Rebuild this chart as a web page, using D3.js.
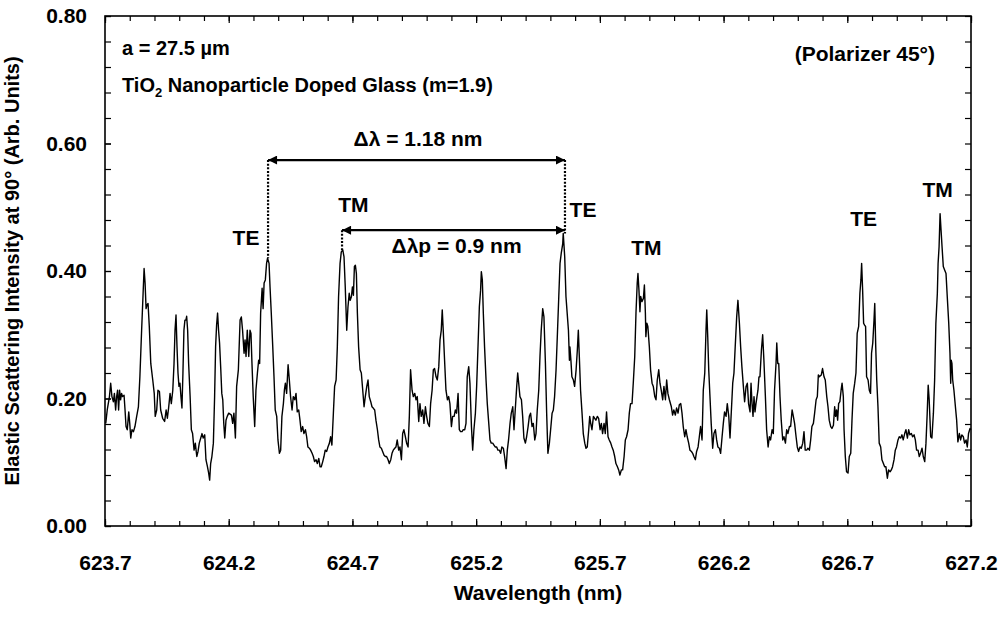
<!DOCTYPE html>
<html>
<head>
<meta charset="utf-8">
<script src="https://cdn.jsdelivr.net/npm/d3@7"></script>
<style>
  body { margin: 0; background: #fff; }
  svg text { font-family: "Liberation Sans", Arial, sans-serif; font-weight: bold; fill: #000; }
</style>
</head>
<body>
<svg width="1005" height="617"></svg>
<script>
// spectrum: [wavelength (nm), intensity (arb. units)]
const spectrum = [
  [623.703,0.161],[623.709,0.182],[623.718,0.203],[623.723,0.224],[623.728,0.203],[623.734,0.195],[623.738,0.208],[623.743,0.182],[623.747,0.203],[623.751,0.213],
  [623.755,0.182],[623.759,0.213],[623.763,0.198],[623.767,0.208],[623.771,0.203],[623.777,0.205],[623.781,0.182],[623.785,0.156],[623.790,0.151],[623.796,0.179],
  [623.800,0.161],[623.804,0.138],[623.809,0.151],[623.815,0.148],[623.821,0.156],[623.828,0.172],[623.835,0.187],[623.841,0.234],[623.848,0.307],[623.854,0.365],
  [623.858,0.404],[623.862,0.381],[623.866,0.341],[623.870,0.347],[623.874,0.349],[623.879,0.313],[623.885,0.255],[623.893,0.229],[623.899,0.208],[623.903,0.172],
  [623.909,0.182],[623.914,0.213],[623.920,0.211],[623.925,0.182],[623.933,0.169],[623.941,0.164],[623.947,0.182],[623.952,0.169],[623.957,0.185],[623.963,0.208],
  [623.968,0.192],[623.974,0.213],[623.979,0.255],[623.983,0.307],[623.987,0.331],[623.991,0.281],[623.995,0.240],[623.999,0.219],[624.003,0.224],[624.007,0.203],
  [624.011,0.185],[624.015,0.240],[624.019,0.307],[624.023,0.323],[624.027,0.323],[624.030,0.329],[624.034,0.307],[624.038,0.255],[624.044,0.203],[624.049,0.151],
  [624.054,0.145],[624.060,0.119],[624.065,0.130],[624.071,0.109],[624.076,0.117],[624.081,0.130],[624.087,0.138],[624.092,0.145],[624.097,0.138],[624.103,0.143],
  [624.108,0.104],[624.114,0.093],[624.119,0.083],[624.123,0.072],[624.127,0.098],[624.132,0.109],[624.138,0.130],[624.143,0.203],[624.147,0.281],[624.151,0.315],
  [624.155,0.334],[624.159,0.307],[624.163,0.287],[624.168,0.245],[624.172,0.208],[624.176,0.198],[624.180,0.161],[624.184,0.138],[624.189,0.166],[624.194,0.172],
  [624.200,0.177],
  [624.211,0.174],[624.216,0.161],[624.221,0.177],[624.227,0.138],[624.232,0.219],[624.239,0.245],[624.246,0.323],[624.251,0.328],[624.256,0.307],[624.262,0.271],
  [624.266,0.292],[624.270,0.266],[624.275,0.307],[624.281,0.266],[624.286,0.307],[624.290,0.302],[624.294,0.255],[624.299,0.203],[624.305,0.156],[624.310,0.213],
  [624.316,0.240],[624.321,0.260],[624.325,0.255],[624.329,0.334],[624.335,0.373],[624.339,0.341],[624.343,0.381],[624.348,0.386],[624.353,0.412],[624.357,0.420],
  [624.363,0.412],[624.367,0.375],[624.372,0.334],[624.378,0.281],[624.383,0.234],[624.388,0.182],[624.394,0.172],[624.399,0.135],[624.405,0.114],[624.410,0.119],
  [624.415,0.172],[624.421,0.192],[624.425,0.213],[624.429,0.224],[624.434,0.208],[624.440,0.253],[624.445,0.229],[624.450,0.203],[624.456,0.182],[624.461,0.203],
  [624.467,0.198],[624.472,0.208],[624.477,0.179],[624.483,0.182],[624.488,0.166],[624.493,0.148],[624.499,0.156],[624.504,0.145],[624.510,0.151],[624.515,0.140],
  [624.520,0.124],[624.526,0.122],[624.531,0.119],[624.537,0.114],[624.542,0.109],[624.547,0.101],[624.553,0.104],[624.558,0.098],[624.564,0.106],[624.569,0.093],
  [624.574,0.093],[624.580,0.101],[624.585,0.109],[624.590,0.119],[624.596,0.117],[624.601,0.124],[624.607,0.130],[624.612,0.140],[624.617,0.127],[624.623,0.177],
  [624.628,0.219],[624.634,0.229],[624.639,0.281],[624.644,0.360],[624.650,0.412],[624.655,0.430],[624.661,0.433],[624.666,0.422],[624.671,0.375],[624.677,0.307],
  [624.682,0.344],[624.687,0.365],[624.691,0.354],[624.696,0.360],[624.700,0.375],[624.704,0.362],[624.708,0.407],[624.712,0.409],[624.716,0.396],[624.720,0.334],
  [624.725,0.281],[624.731,0.245],[624.736,0.240],[624.741,0.216],[624.747,0.187],[624.752,0.203],[624.758,0.219],[624.763,0.229],[624.768,0.203],[624.774,0.195],
  [624.779,0.187],[624.784,0.185],[624.790,0.182],[624.795,0.166],[624.801,0.151],[624.806,0.135],[624.811,0.124],
  [624.817,0.122],[624.822,0.117],[624.828,0.111],[624.833,0.109],[624.838,0.109],[624.844,0.104],[624.849,0.098],[624.855,0.104],[624.860,0.114],[624.865,0.119],
  [624.871,0.122],[624.876,0.124],[624.881,0.135],[624.887,0.119],[624.892,0.124],[624.898,0.104],[624.903,0.145],[624.908,0.151],[624.914,0.140],[624.919,0.130],
  [624.925,0.124],[624.930,0.172],[624.935,0.245],[624.941,0.213],[624.946,0.203],[624.952,0.208],[624.957,0.198],[624.962,0.203],[624.968,0.164],[624.973,0.192],
  [624.978,0.172],[624.984,0.182],[624.989,0.161],[624.995,0.187],[625.000,0.172],[625.005,0.161],[625.011,0.156],[625.016,0.192],[625.022,0.213],[625.027,0.245],
  [625.032,0.247],[625.038,0.234],[625.043,0.229],[625.049,0.250],[625.054,0.292],[625.059,0.307],[625.063,0.339],[625.067,0.307],[625.073,0.255],[625.078,0.213],
  [625.084,0.198],[625.089,0.203],[625.094,0.192],[625.100,0.156],[625.105,0.172],[625.111,0.172],[625.116,0.182],[625.121,0.177],[625.127,0.208],[625.132,0.151],
  [625.137,0.148],[625.143,0.148],[625.148,0.151],[625.154,0.151],[625.159,0.161],[625.164,0.234],[625.170,0.250],[625.175,0.224],[625.181,0.156],[625.186,0.119],
  [625.191,0.151],[625.197,0.177],[625.202,0.219],[625.208,0.287],[625.213,0.344],[625.218,0.370],[625.221,0.399],[625.225,0.386],[625.229,0.334],[625.234,0.281],
  [625.240,0.229],[625.245,0.192],[625.251,0.161],[625.256,0.135],[625.261,0.130],[625.267,0.130],[625.272,0.127],[625.277,0.124],[625.283,0.124],[625.288,0.119],
  [625.294,0.119],[625.299,0.114],[625.304,0.124],[625.310,0.122],[625.315,0.109],[625.321,0.090],[625.326,0.119],[625.331,0.135],[625.337,0.161],[625.342,0.177],
  [625.348,0.187],[625.353,0.151],[625.358,0.182],[625.364,0.219],[625.368,0.240],[625.372,0.224],[625.377,0.203],[625.383,0.198],[625.388,0.172],[625.393,0.138],
  [625.399,0.130],[625.404,0.140],[625.410,0.156],[625.415,0.172],
  [625.420,0.177],[625.426,0.156],[625.431,0.161],[625.437,0.135],[625.442,0.145],[625.447,0.182],[625.453,0.213],[625.458,0.266],[625.463,0.307],[625.469,0.341],
  [625.474,0.328],[625.480,0.255],[625.485,0.177],[625.490,0.114],[625.496,0.130],[625.501,0.151],[625.507,0.177],[625.512,0.182],[625.517,0.203],[625.523,0.245],
  [625.528,0.297],[625.534,0.360],[625.539,0.412],[625.544,0.428],[625.550,0.443],[625.552,0.459],[625.558,0.422],[625.563,0.360],[625.569,0.328],[625.573,0.307],
  [625.577,0.260],[625.579,0.281],[625.583,0.260],[625.587,0.234],[625.593,0.229],[625.598,0.219],[625.604,0.245],[625.609,0.276],[625.613,0.307],[625.617,0.266],
  [625.622,0.213],[625.628,0.177],[625.633,0.145],[625.639,0.130],[625.644,0.122],[625.649,0.124],[625.655,0.151],[625.659,0.172],[625.663,0.161],[625.668,0.151],
  [625.674,0.172],[625.679,0.169],[625.684,0.166],[625.690,0.172],[625.695,0.169],[625.701,0.151],[625.706,0.161],[625.711,0.145],[625.717,0.161],[625.722,0.145],
  [625.727,0.179],[625.733,0.140],[625.738,0.135],[625.744,0.130],[625.749,0.124],[625.754,0.119],[625.760,0.109],[625.765,0.098],[625.771,0.093],[625.776,0.088],
  [625.781,0.080],[625.787,0.088],[625.792,0.088],[625.798,0.109],[625.803,0.135],[625.808,0.140],[625.814,0.151],[625.819,0.177],[625.824,0.192],[625.830,0.192],
  [625.835,0.224],[625.841,0.266],[625.846,0.334],[625.851,0.381],[625.854,0.396],[625.858,0.370],[625.862,0.336],[625.865,0.360],[625.870,0.352],[625.876,0.357],
  [625.880,0.378],[625.884,0.334],[625.886,0.297],[625.890,0.318],[625.894,0.313],[625.900,0.281],[625.905,0.245],[625.911,0.224],[625.916,0.219],[625.922,0.203],
  [625.927,0.198],[625.932,0.229],[625.938,0.245],[625.943,0.224],[625.948,0.213],[625.954,0.198],[625.959,0.219],[625.965,0.198],[625.970,0.229],[625.975,0.208],
  [625.981,0.198],
  [625.989,0.187],[625.994,0.174],[625.999,0.182],[626.005,0.174],[626.010,0.185],[626.016,0.177],[626.021,0.190],[626.027,0.192],[626.032,0.177],[626.037,0.156],
  [626.043,0.140],[626.048,0.151],[626.053,0.140],[626.059,0.130],[626.064,0.119],[626.070,0.117],[626.075,0.114],[626.080,0.109],[626.086,0.104],[626.091,0.117],
  [626.097,0.124],[626.102,0.140],[626.107,0.156],[626.113,0.135],[626.118,0.213],[626.124,0.240],[626.129,0.307],[626.132,0.339],[626.136,0.297],[626.140,0.245],
  [626.145,0.203],[626.150,0.161],[626.156,0.122],[626.161,0.145],[626.167,0.151],[626.172,0.135],[626.177,0.124],[626.183,0.122],[626.188,0.114],[626.194,0.140],
  [626.199,0.161],[626.204,0.179],[626.210,0.172],[626.215,0.192],[626.221,0.172],[626.226,0.138],[626.231,0.177],[626.237,0.224],[626.242,0.240],[626.247,0.281],
  [626.253,0.328],[626.258,0.354],[626.264,0.318],[626.269,0.281],[626.274,0.250],[626.280,0.219],[626.285,0.195],[626.291,0.219],[626.296,0.224],[626.301,0.192],
  [626.307,0.179],[626.311,0.224],[626.315,0.192],[626.319,0.172],[626.323,0.203],[626.327,0.179],[626.331,0.192],[626.335,0.203],[626.339,0.213],[626.343,0.234],
  [626.347,0.234],[626.353,0.276],[626.358,0.300],[626.363,0.260],[626.369,0.203],[626.374,0.151],[626.380,0.124],[626.385,0.140],[626.390,0.135],[626.396,0.151],
  [626.401,0.145],[626.406,0.213],[626.412,0.255],[626.415,0.287],[626.419,0.255],[626.423,0.255],[626.428,0.203],[626.433,0.166],[626.439,0.135],[626.444,0.140],
  [626.450,0.130],[626.455,0.151],[626.460,0.145],[626.466,0.156],[626.471,0.156],[626.477,0.182],[626.482,0.172],[626.487,0.161],[626.493,0.140],[626.498,0.124],
  [626.503,0.117],[626.509,0.124],[626.514,0.122],[626.520,0.130],[626.525,0.148],[626.530,0.119],[626.536,0.119],[626.541,0.122],[626.547,0.119],[626.552,0.135],
  [626.557,0.156],[626.563,0.161],[626.568,0.177],[626.574,0.198],[626.579,0.203],[626.583,0.237],[626.587,0.234],
  [626.595,0.237],[626.600,0.247],[626.606,0.234],[626.611,0.229],[626.617,0.203],[626.622,0.187],[626.627,0.166],[626.633,0.156],[626.638,0.153],[626.644,0.158],
  [626.649,0.187],[626.653,0.172],[626.657,0.182],[626.661,0.166],[626.665,0.192],[626.670,0.195],[626.675,0.213],[626.679,0.224],[626.684,0.203],[626.687,0.151],
  [626.692,0.109],[626.697,0.085],[626.703,0.083],[626.708,0.109],[626.714,0.114],[626.719,0.166],[626.724,0.208],[626.730,0.224],[626.735,0.240],[626.740,0.302],
  [626.746,0.313],[626.751,0.365],[626.755,0.386],[626.758,0.412],[626.762,0.370],[626.766,0.318],[626.770,0.315],[626.774,0.313],[626.778,0.234],[626.784,0.229],
  [626.789,0.213],[626.794,0.208],[626.798,0.271],[626.803,0.287],[626.808,0.323],[626.811,0.349],[626.815,0.281],[626.819,0.229],[626.824,0.187],[626.829,0.130],
  [626.835,0.124],[626.840,0.104],[626.846,0.098],[626.851,0.093],[626.856,0.093],[626.862,0.075],[626.867,0.088],[626.873,0.085],[626.878,0.088],[626.883,0.093],
  [626.889,0.104],[626.894,0.119],[626.899,0.124],[626.905,0.135],[626.910,0.140],[626.916,0.138],[626.921,0.143],[626.926,0.135],[626.932,0.145],[626.937,0.151],
  [626.943,0.138],[626.948,0.151],[626.953,0.143],[626.959,0.145],[626.964,0.140],[626.970,0.143],[626.975,0.135],[626.980,0.119],[626.986,0.119],[626.991,0.109],
  [626.996,0.114],[627.002,0.122],[627.007,0.109],[627.013,0.101],[627.018,0.130],[627.023,0.177],[627.027,0.221],[627.031,0.198],[627.037,0.140],[627.042,0.138],
  [627.048,0.177],[627.053,0.229],[627.058,0.318],[627.064,0.365],[627.067,0.412],[627.071,0.438],[627.075,0.490],[627.079,0.464],[627.083,0.438],[627.088,0.407],
  [627.093,0.402],[627.099,0.396],[627.104,0.360],[627.110,0.318],[627.115,0.271],[627.118,0.224],[627.120,0.260],[627.123,0.255],[627.126,0.229],[627.131,0.213],
  [627.137,0.187],[627.142,0.166],[627.147,0.132],[627.153,0.145],[627.158,0.135],[627.163,0.143],[627.169,0.140],[627.174,0.130],[627.180,0.135],[627.185,0.124],
  [627.190,0.145],[627.196,0.153],[627.200,0.151]
]

const xTickLabels = [623.7, 624.2, 624.7, 625.2, 625.7, 626.2, 626.7, 627.2]
const yTickLabels = [0, 0.2, 0.4, 0.6, 0.8]

// TE / TM mode labels [text, wavelength, intensity at baseline]
const modeLabels = [
  ['TE', 624.270, 0.441],
  ['TM', 624.704, 0.492],
  ['TE', 625.632, 0.485],
  ['TM', 625.888, 0.425],
  ['TE', 626.766, 0.470],
  ['TM', 627.065, 0.516]
]

// spacing arrows [from, to, level]
const arrows = [
  [624.359, 625.559, 0.574],
  [624.658, 625.559, 0.464]
]
// dotted guides [wavelength, top, bottom]
const guides = [
  [624.359, 0.574, 0.420],
  [625.559, 0.574, 0.459],
  [624.658, 0.464, 0.433]
]
const spacingLabels = [
  ['\u0394\u03bb = 1.18 nm', 624.965, 0.596],
  ['\u0394\u03bbp = 0.9 nm', 625.121, 0.428]
]

const svg = d3.select('svg')
const width = +svg.attr('width'),
    height = +svg.attr('height'),
    margin = {top: 16, right: 34, bottom: 91, left: 105}

svg.append('rect').attr('width', width).attr('height', height).attr('fill', '#fff')

const x = d3.scaleLinear().domain([623.7, 627.2]).range([margin.left, width - margin.right])
const y = d3.scaleLinear().domain([0, 0.8]).range([height - margin.bottom, margin.top])

const xMinor = d3.range(0, 36).map(i => 623.7 + i * 0.1)
const yMinor = d3.range(0, 21).map(i => i * 0.04)

// ticks on all four sides, pointing inward
const tickGroup = (axis, transform) => {
    const g = svg.append('g')
        .attr('transform', transform)
        .style('color', '#000')
        .call(axis)
    g.select('.domain').remove()
    g.selectAll('line').attr('stroke-width', 1.2)
    g.selectAll('text').attr('font-size', 21)
    return g
}

tickGroup(d3.axisBottom(x).tickValues(xMinor).tickSize(-5).tickFormat(''), `translate(0,${y(0)})`)
tickGroup(d3.axisBottom(x).tickValues(xTickLabels).tickSize(-7).tickPadding(29).tickFormat(d3.format('.1f')), `translate(0,${y(0)})`)
tickGroup(d3.axisTop(x).tickValues(xMinor).tickSize(-5).tickFormat(''), `translate(0,${y(0.8)})`)
tickGroup(d3.axisTop(x).tickValues(xTickLabels).tickSize(-7).tickFormat(''), `translate(0,${y(0.8)})`)
tickGroup(d3.axisLeft(y).tickValues(yMinor).tickSize(-6).tickFormat(''), `translate(${x(623.7)},0)`)
tickGroup(d3.axisLeft(y).tickValues(yTickLabels).tickSize(-6).tickPadding(18).tickFormat(d3.format('.2f')), `translate(${x(623.7)},0)`)
tickGroup(d3.axisRight(y).tickValues(yMinor).tickSize(-6).tickFormat(''), `translate(${x(627.2)},0)`)

// frame
svg.append('rect')
    .attr('x', x(623.7))
    .attr('y', y(0.8))
    .attr('width', x(627.2) - x(623.7))
    .attr('height', y(0) - y(0.8))
    .attr('fill', 'none')
    .attr('stroke', '#000')
    .attr('stroke-width', 1.6)

// spectrum
svg.append('path')
    .datum(spectrum)
    .attr('fill', 'none')
    .attr('stroke', '#000')
    .attr('stroke-width', 1.4)
    .attr('stroke-linejoin', 'round')
    .attr('d', d3.line().x(d => x(d[0])).y(d => y(d[1])))

// arrowheads
svg.append('defs').append('marker')
    .attr('id', 'head')
    .attr('viewBox', '0 0 10 10')
    .attr('refX', 10)
    .attr('refY', 5)
    .attr('markerWidth', 11)
    .attr('markerHeight', 9)
    .attr('markerUnits', 'userSpaceOnUse')
    .attr('orient', 'auto-start-reverse')
    .append('path')
    .attr('d', 'M0,0L10,5L0,10Z')
    .attr('fill', '#000')

svg.selectAll('.guide')
    .data(guides)
    .enter().append('line')
    .attr('class', 'guide')
    .attr('x1', d => x(d[0])).attr('x2', d => x(d[0]))
    .attr('y1', d => y(d[1])).attr('y2', d => y(d[2]))
    .attr('stroke', '#000')
    .attr('stroke-width', 2.2)
    .attr('stroke-dasharray', '2,1.6')

svg.selectAll('.arrow')
    .data(arrows)
    .enter().append('line')
    .attr('class', 'arrow')
    .attr('x1', d => x(d[0])).attr('x2', d => x(d[1]))
    .attr('y1', d => y(d[2])).attr('y2', d => y(d[2]))
    .attr('stroke', '#000')
    .attr('stroke-width', 2.2)
    .attr('marker-start', 'url(#head)')
    .attr('marker-end', 'url(#head)')

svg.selectAll('.mode')
    .data(modeLabels)
    .enter().append('text')
    .attr('class', 'mode')
    .attr('x', d => x(d[1]))
    .attr('y', d => y(d[2]))
    .attr('text-anchor', 'middle')
    .attr('font-size', 21)
    .text(d => d[0])

svg.selectAll('.spacing')
    .data(spacingLabels)
    .enter().append('text')
    .attr('class', 'spacing')
    .attr('x', d => x(d[1]))
    .attr('y', d => y(d[2]))
    .attr('text-anchor', 'middle')
    .attr('font-size', 21)
    .text(d => d[0])

//sample info
svg.append('text')
    .attr('x', margin.left + 17)
    .attr('y', 55)
    .attr('font-size', 20)
    .text('a = 27.5 \u00b5m')

const tio2 = svg.append('text')
    .attr('x', margin.left + 17)
    .attr('y', 92)
    .attr('font-size', 20)
tio2.append('tspan').text('TiO')
tio2.append('tspan').attr('font-size', 13).attr('dy', 5).text('2')
tio2.append('tspan').attr('dy', -5).text(' Nanoparticle Doped Glass (m=1.9)')

svg.append('text')
    .attr('x', 935)
    .attr('y', 61)
    .attr('text-anchor', 'end')
    .attr('font-size', 21)
    .text('(Polarizer 45\u00b0)')

//axis titles
svg.append('text')
    .attr('x', (x(623.7) + x(627.2)) / 2)
    .attr('y', 600)
    .attr('text-anchor', 'middle')
    .attr('font-size', 21)
    .text('Wavelength (nm)')

svg.append('text')
    .attr('transform', 'rotate(-90)')
    .attr('x', -(y(0) + y(0.8)) / 2)
    .attr('y', 19)
    .attr('text-anchor', 'middle')
    .attr('font-size', 20)
    .text('Elastic Scattering Intensity at 90\u00b0 (Arb. Units)')
</script>
</body>
</html>
